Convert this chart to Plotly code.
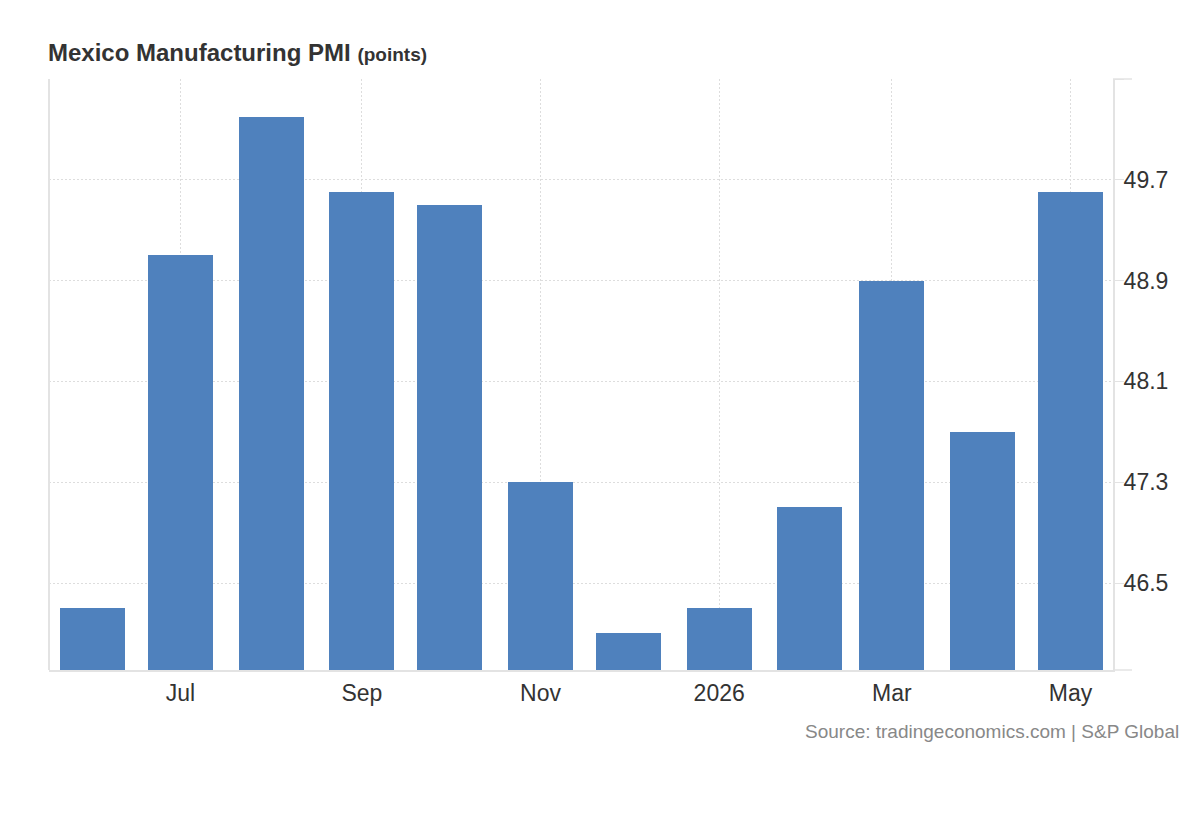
import plotly.graph_objects as go

months = ["2025-06-01", "2025-07-01", "2025-08-01", "2025-09-01", "2025-10-01", "2025-11-01",
          "2025-12-01", "2026-01-01", "2026-02-01", "2026-03-01", "2026-04-01", "2026-05-01"]
pmi = [46.3, 49.1, 50.2, 49.6, 49.5, 47.3, 46.1, 46.3, 47.1, 48.9, 47.7, 49.6]

x_tickvals = ["2025-07-01", "2025-09-01", "2025-11-01", "2026-01-01", "2026-03-01", "2026-05-01"]
x_ticktext = ["Jul", "Sep", "Nov", "2026", "Mar", "May"]
y_tickvals = [46.5, 47.3, 48.1, 48.9, 49.7, 50.5]
y_ticktext = ["46.5", "47.3", "48.1", "48.9", "49.7", ""]

FONT = "Liberation Sans, Arial, sans-serif"
DAY_MS = 86400000
PLOT_W = 1064  # px width of plot area

fig = go.Figure(go.Bar(
    x=months, y=pmi,
    width=22.2 * DAY_MS,
    marker=dict(color="#4f81bd", line=dict(width=0)),
    hoverinfo="x+y",
))

fig.update_layout(
    width=1200, height=820,
    margin=dict(l=49, r=87, t=79, b=150),
    paper_bgcolor="white", plot_bgcolor="white",
    font=dict(family=FONT, color="#333333"),
    showlegend=False,
    bargap=0,
    xaxis=dict(
        type="date",
        range=["2025-05-17 03:00", "2026-05-15 12:00"],
        tickvals=x_tickvals, ticktext=x_ticktext,
        tickfont=dict(size=23, color="#333333", family=FONT),
        showgrid=True, gridcolor="#dddddd", griddash="2px,2px", gridwidth=1,
        showline=True, linecolor="#e3e3e3", linewidth=2,
        ticks="", ticklabelstandoff=1,
        zeroline=False, mirror=False,
    ),
    yaxis=dict(
        side="right",
        range=[45.81, 50.5],
        tickvals=y_tickvals, ticktext=y_ticktext,
        tickfont=dict(size=23, color="#333333", family=FONT),
        showgrid=True, gridcolor="#dddddd", griddash="2px,2px", gridwidth=1,
        showline=True, linecolor="#e3e3e3", linewidth=2,
        ticks="outside", ticklen=9, tickcolor="#e3e3e3", tickwidth=1,
        ticklabelstandoff=-5,
        zeroline=False,
    ),
    annotations=[
        dict(
            text="<b>Mexico Manufacturing PMI</b> <b><span style='font-size:19px'>(points)</span></b>",
            xref="paper", yref="paper", x=-0.001, xshift=-2, y=1.0, yshift=27,
            xanchor="left", yanchor="middle", showarrow=False,
            font=dict(size=24, color="#333333", family=FONT),
        ),
        dict(
            text="Source: tradingeconomics.com | S&P Global",
            xref="paper", yref="paper", x=1.0, xshift=68, y=0, yshift=-61,
            xanchor="right", yanchor="middle", showarrow=False,
            font=dict(size=19, color="#888888", family=FONT),
        ),
    ],
)

# left axis line
fig.add_shape(type="line", xref="paper", yref="paper", x0=0, x1=0, y0=0, y1=1,
              line=dict(color="#e3e3e3", width=2))
# short extensions of top and bottom lines beyond the right axis
for yy in (0, 1):
    fig.add_shape(type="line", xref="paper", yref="paper", x0=1, x1=1 + 19 / PLOT_W,
                  y0=yy, y1=yy, line=dict(color="#e3e3e3", width=1.5))

fig.write_html("out.html")
